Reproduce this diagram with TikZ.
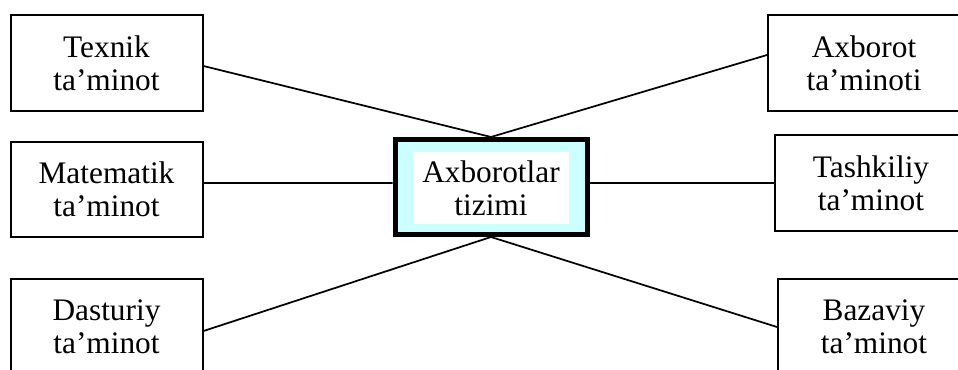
\documentclass[tikz,border=0pt]{standalone}
\usepackage{fontspec}
\setmainfont{Liberation Serif}
\definecolor{lcyan}{HTML}{CCFFFF}
\begin{document}
\begin{tikzpicture}[x=0.75pt,y=-0.75pt,
  box/.style={draw=black,line width=1.5pt,fill=white,align=center,inner sep=0pt,
    minimum width=144pt,minimum height=72pt,
    font=\fontsize{23.5}{25}\selectfont},
  conn/.style={draw=black,line width=1.3pt},
  centre/.style={draw=black,line width=3.75pt,fill=lcyan,inner sep=0pt,
    minimum width=144pt,minimum height=71.25pt},
  inner/.style={fill=white,align=center,inner sep=0pt,
    minimum width=117pt,minimum height=54pt,
    font=\fontsize{23.5}{25}\selectfont}]
\useasboundingbox (0,0) rectangle (958,370);
\clip (0,0) rectangle (958,370);
\node[centre] (cen) at (491,187) {};
\node[inner] (cenin) at (491,188) {Axborotlar\\tizimi};
\node[box] (tex) at (106.5,63) {Texnik\\ta’minot};
\node[box] (axb) at (864,63) {Axborot\\ta’minoti};
\node[box,minimum height=71.25pt] (mat) at (106.5,189.5) {Matematik\\ta’minot};
\node[box] (tas) at (871,183) {Tashkiliy\\ta’minot};
\node[box] (das) at (106.5,327) {Dasturiy\\ta’minot};
\node[box] (baz) at (874,327) {Bazaviy\\ta’minot};
\draw[conn] ([yshift=-2.25pt]tex.east) -- (cen.north);
\draw[conn] ([yshift=6pt]axb.west) -- (cen.north);
\draw[conn] ([yshift=4.9pt]mat.east) -- ([yshift=3pt]cen.west);
\draw[conn] ([yshift=3pt]cen.east) -- (tas.west);
\draw[conn] ([yshift=-3pt]das.east) -- (cen.south);
\draw[conn] (baz.west) -- (cen.south);
\end{tikzpicture}
\end{document}
